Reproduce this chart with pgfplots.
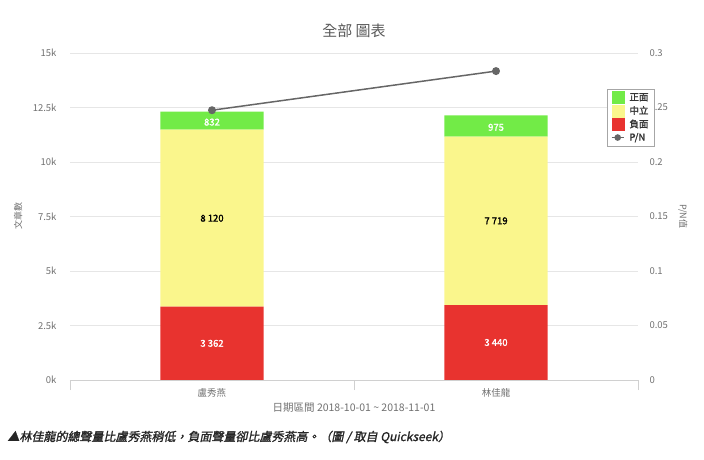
\documentclass[border=0pt]{standalone}
\usepackage{pgfplots}
\pgfplotsset{compat=1.18}
\usepackage{fontspec}
\setmainfont{Noto Sans CJK TC}[AutoFakeBold=1.5,AutoFakeSlant=0.2]
\definecolor{posgreen}{HTML}{72EB47}
\definecolor{neuyellow}{HTML}{FAF68C}
\definecolor{negred}{HTML}{E8332F}
\definecolor{pngray}{HTML}{666666}
\definecolor{gridgray}{HTML}{E6E6E6}
\definecolor{axisgray}{HTML}{D0D0D0}
\definecolor{labgray}{HTML}{707070}

\pgfplotsset{
  base/.style={
    scale only axis, width=568pt, height=327pt,
    xmin=-0.5, xmax=1.5,
    scaled y ticks=false,
    /pgf/number format/assume math mode=true,
    tick label style={font=\fontsize{9.5}{11}\selectfont, text=labgray},
    major tick length=0pt,
  },
}
\tikzset{dlab/.style={font=\fontsize{9.5}{11}\selectfont\bfseries}}

\begin{document}
\begin{tikzpicture}
\begin{axis}[base,
  ybar stacked, bar width=0.363,
  ymin=0, ymax=15000,
  ytick={0,2500,5000,7500,10000,12500,15000},
  yticklabels={0k,2.5k,5k,7.5k,10k,12.5k,15k},
  yticklabel style={xshift=-10pt},
  ymajorgrids, major grid style={draw=gridgray, line width=0.8pt},
  axis x line*=bottom, axis y line*=left,
  y axis line style={draw=none},
  x axis line style={draw=axisgray, line width=0.8pt, -},
  xtick={0,1}, xticklabels={盧秀燕,林佳龍},
  xticklabel style={yshift=-5pt},
  extra x ticks={-0.5,0.5,1.5}, extra x tick labels={},
  extra x tick style={major tick length=10pt, tick align=outside,
    tick style={draw=axisgray, line width=0.8pt}},
  xlabel={日期區間 2018-10-01 \textasciitilde{} 2018-11-01},
  every axis x label/.style={at={(axis description cs:0.5,-0.083)}, anchor=center,
    font=\fontsize{10.5}{12}\selectfont, text=labgray},
  ylabel={文章數},
  every axis y label/.style={at={(axis description cs:-0.0915,0.5)}, anchor=center,
    rotate=90, font=\fontsize{9}{11}\selectfont, text=labgray},
  title={全部 圖表},
  every axis title/.style={at={(axis description cs:0.5,1.068)}, anchor=center,
    font=\fontsize{15}{17}\selectfont, text=black!65},
]
% 負面
\addplot[fill=negred, draw=none] coordinates {(0,3362) (1,3440)};
% 中立
\addplot[fill=neuyellow, draw=none] coordinates {(0,8120) (1,7719)};
% 正面
\addplot[fill=posgreen, draw=none] coordinates {(0,832) (1,975)};
\end{axis}

\begin{axis}[base,
  ymin=0, ymax=0.3,
  ytick={0,0.05,0.1,0.15,0.2,0.25,0.3},
  yticklabels={0,0.05,0.1,0.15,0.2,0.25,0.3},
  yticklabel style={xshift=8pt},
  axis y line*=right, axis x line=none,
  y axis line style={draw=none},
  ylabel={P/N值},
  every axis y label/.style={at={(axis description cs:1.079,0.5)}, anchor=center,
    rotate=-90, font=\fontsize{9}{11}\selectfont, text=labgray},
  legend style={at={(axis description cs:0.945,0.89)}, anchor=north west,
    draw=black!35, fill=white, inner xsep=4pt, inner ysep=2pt, row sep=0pt,
    font=\fontsize{9.5}{11}\selectfont\bfseries, text=black!80,
    /tikz/every odd column/.append style={column sep=3pt}},
  legend cell align=left,
]
\addlegendimage{legend image code/.code={\fill[posgreen] (0pt,-6pt) rectangle (12pt,6pt);}}
\addlegendentry{正面}
\addlegendimage{legend image code/.code={\fill[neuyellow] (0pt,-6pt) rectangle (12pt,6pt);}}
\addlegendentry{中立}
\addlegendimage{legend image code/.code={\fill[negred] (0pt,-6pt) rectangle (12pt,6pt);}}
\addlegendentry{負面}
\addplot[pngray, line width=1.5pt, mark=*, mark size=3.2pt,
  mark options={fill=pngray, draw=pngray},
  legend image code/.code={\draw[pngray, line width=1.5pt] (0pt,0pt) -- (12pt,0pt);
    \fill[pngray] (6pt,0pt) circle (2.5pt);}]
  coordinates {(0,0.2475) (1,0.2834)};
\addlegendentry{P/N}

% bar value labels (left-axis value x 0.00002 on this axis)
\node[dlab, text=white] at (axis cs:0,0.03362) {3 362};
\node[dlab, text=white] at (axis cs:1,0.0344) {3 440};
\node[dlab, text=black] at (axis cs:0,0.14844) {8 120};
\node[dlab, text=black] at (axis cs:1,0.146) {7 719};
\node[dlab, text=white] at (axis cs:0,0.2366) {832};
\node[dlab, text=white] at (axis cs:1,0.2318) {975};
\end{axis}

\node[anchor=west, font=\fontsize{12}{14}\selectfont\bfseries\itshape, text=black!85]
  at (-66pt,-57pt) {▲林佳龍的總聲量比盧秀燕稍低，負面聲量卻比盧秀燕高。（圖 / 取自 Quickseek）};
\path (-70pt,-80pt) rectangle (634pt,380pt);
\end{tikzpicture}
\end{document}
